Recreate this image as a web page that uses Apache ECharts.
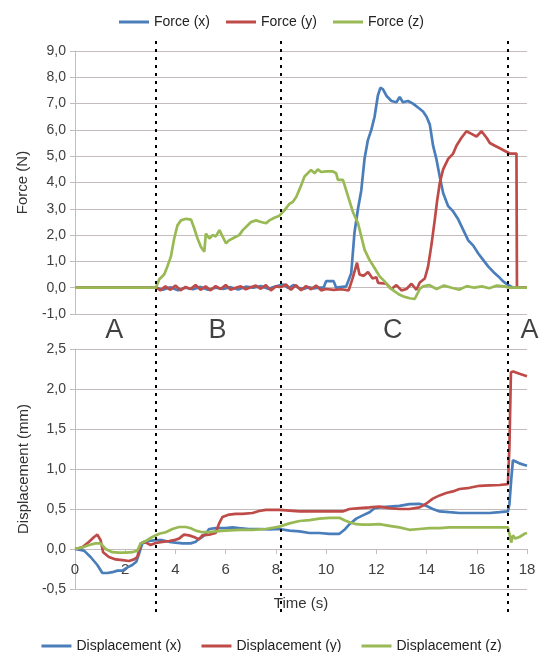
<!DOCTYPE html>
<html>
<head>
<meta charset="utf-8" />
<script src="https://cdn.jsdelivr.net/npm/echarts@6/dist/echarts.min.js"></script>
<style>
  html, body { margin: 0; padding: 0; background: #fff; }
  #chart { width: 543px; height: 652px; }
</style>
</head>
<body>
<div id="chart"></div>
<script>
// force (N) vs time (s)
const forceXTime = [0, 3.25, 3.5, 3.8, 4.1, 4.4, 4.7, 5.0, 5.3, 5.6, 5.9, 6.2, 6.5, 6.8, 7.1, 7.4, 7.7, 8.0, 8.3, 8.5, 8.7, 8.9, 9.1, 9.3, 9.5, 9.7, 9.9, 10.0, 10.3, 10.4, 10.8, 11.0, 11.13, 11.27, 11.4, 11.53, 11.66, 11.8, 11.93, 12.06, 12.16, 12.26, 12.4, 12.6, 12.8, 12.93, 13.06, 13.26, 13.46, 13.66, 13.86, 14.0, 14.13, 14.26, 14.39, 14.53, 14.66, 14.86, 15.06, 15.26, 15.46, 15.66, 15.86, 16.06, 16.26, 16.46, 16.66, 16.86, 17.05, 17.25, 17.45, 18];
const forceX = [0, 0, -0.08, 0.02, -0.1, 0.0, -0.06, 0.03, -0.08, 0.0, -0.05, 0.02, -0.07, 0.04, 0.0, 0.06, -0.04, 0.05, 0.12, -0.02, 0.1, 0.0, -0.05, 0.02, -0.03, 0.0, 0.0, 0.25, 0.25, 0.0, 0.05, 0.55, 2.1, 3.0, 3.7, 4.9, 5.6, 6.0, 6.5, 7.3, 7.6, 7.55, 7.3, 7.1, 7.05, 7.25, 7.05, 7.1, 7.0, 6.85, 6.7, 6.5, 6.2, 5.4, 4.9, 4.2, 3.6, 3.1, 2.9, 2.6, 2.2, 1.8, 1.6, 1.3, 1.05, 0.8, 0.6, 0.43, 0.24, 0.1, 0, 0];

const forceYTime = [0, 3.25, 3.4, 3.6, 3.8, 4.0, 4.2, 4.4, 4.6, 4.8, 5.0, 5.2, 5.4, 5.6, 5.8, 6.0, 6.2, 6.4, 6.6, 6.8, 7.0, 7.2, 7.4, 7.6, 7.8, 8.0, 8.2, 8.4, 8.6, 8.8, 9.0, 9.2, 9.4, 9.6, 9.8, 10.0, 10.3, 10.6, 10.9, 11.07, 11.23, 11.33, 11.5, 11.67, 11.85, 12.0, 12.07, 12.4, 12.6, 12.8, 13.0, 13.2, 13.4, 13.6, 13.73, 13.93, 14.06, 14.19, 14.33, 14.42, 14.53, 14.66, 14.86, 15.06, 15.19, 15.39, 15.59, 15.79, 15.99, 16.19, 16.39, 16.52, 16.72, 16.92, 17.12, 17.32, 17.58, 17.6, 18];
const forceY = [0, 0, -0.1, 0.05, -0.08, 0.08, -0.1, 0.03, -0.05, 0.1, -0.08, 0.05, -0.1, 0.06, -0.05, 0.1, -0.08, 0.0, 0.05, -0.06, 0.02, 0.08, -0.04, 0.1, -0.1, 0.05, 0.02, 0.12, -0.08, 0.1, -0.1, 0.06, -0.06, 0.08, -0.1, -0.05, -0.08, -0.06, -0.1, 0.4, 0.95, 0.5, 0.45, 0.6, 0.35, 0.4, 0.18, 0.15, -0.05, 0.1, -0.1, -0.05, 0.15, -0.08, 0.2, 0.35, 0.8, 1.6, 2.6, 3.3, 4.0, 4.5, 4.9, 5.1, 5.4, 5.7, 5.95, 5.85, 5.75, 5.95, 5.7, 5.5, 5.4, 5.3, 5.2, 5.1, 5.1, 0, 0];

const forceZTime = [0, 3.22, 3.35, 3.55, 3.68, 3.82, 3.95, 4.08, 4.22, 4.42, 4.62, 4.75, 4.88, 5.01, 5.15, 5.21, 5.35, 5.48, 5.61, 5.75, 5.88, 6.01, 6.15, 6.35, 6.54, 6.68, 6.81, 7.01, 7.21, 7.41, 7.61, 7.74, 7.94, 8.14, 8.34, 8.54, 8.67, 8.81, 9.01, 9.14, 9.27, 9.40, 9.54, 9.67, 9.80, 10.0, 10.27, 10.40, 10.47, 10.67, 10.80, 10.93, 11.07, 11.27, 11.40, 11.53, 11.73, 11.93, 12.13, 12.33, 12.53, 12.73, 12.93, 13.13, 13.33, 13.53, 13.73, 13.86, 14.1, 14.4, 14.7, 15.0, 15.3, 15.6, 15.9, 16.2, 16.5, 16.8, 17.1, 17.3, 18];
const forceZ = [0, 0, 0.31, 0.5, 0.81, 1.19, 1.87, 2.37, 2.56, 2.62, 2.59, 2.25, 1.87, 1.56, 1.37, 2.06, 1.87, 2.0, 1.95, 2.19, 1.94, 1.69, 1.81, 1.91, 2.0, 2.19, 2.31, 2.5, 2.56, 2.5, 2.45, 2.56, 2.66, 2.74, 2.94, 3.19, 3.26, 3.45, 3.9, 4.23, 4.35, 4.48, 4.35, 4.5, 4.4, 4.42, 4.42, 4.35, 4.1, 4.1, 3.7, 3.3, 2.87, 2.45, 1.95, 1.45, 1.05, 0.75, 0.43, 0.24, 0.0, -0.14, -0.27, -0.35, -0.4, -0.43, -0.05, 0.05, 0.1, -0.05, 0.08, 0.0, -0.08, 0.06, 0.0, 0.05, -0.02, 0.08, 0.05, 0, 0];

// displacement (mm) vs time (s)
const dispXTime = [0, 0.36, 0.62, 0.89, 1.09, 1.29, 1.49, 1.69, 1.89, 2.09, 2.28, 2.44, 2.55, 2.68, 2.95, 3.21, 3.48, 3.75, 4.01, 4.28, 4.61, 4.81, 4.94, 5.07, 5.21, 5.34, 5.60, 6.00, 6.27, 6.53, 6.93, 7.33, 7.73, 8.14, 8.54, 8.94, 9.34, 9.73, 10.13, 10.53, 10.73, 10.93, 11.20, 11.46, 11.73, 11.93, 12.12, 12.52, 12.92, 13.32, 13.72, 13.98, 14.25, 14.52, 14.91, 15.31, 15.71, 16.11, 16.51, 16.91, 17.24, 17.30, 17.37, 17.44, 17.57, 17.70, 17.90, 18.0];
const dispX = [0, -0.02, -0.1, -0.2, -0.3, -0.3, -0.29, -0.27, -0.27, -0.23, -0.2, -0.16, -0.06, 0.07, 0.1, 0.11, 0.11, 0.09, 0.08, 0.07, 0.07, 0.09, 0.13, 0.15, 0.19, 0.25, 0.26, 0.26, 0.27, 0.26, 0.25, 0.25, 0.245, 0.25, 0.23, 0.22, 0.2, 0.2, 0.19, 0.19, 0.24, 0.31, 0.38, 0.42, 0.46, 0.51, 0.52, 0.53, 0.54, 0.56, 0.565, 0.54, 0.5, 0.47, 0.46, 0.45, 0.45, 0.45, 0.45, 0.46, 0.47, 0.56, 0.86, 1.11, 1.09, 1.07, 1.05, 1.04];

const dispYTime = [0, 0.29, 0.56, 0.76, 0.89, 1.02, 1.12, 1.35, 1.62, 1.89, 2.15, 2.35, 2.48, 2.62, 2.75, 2.88, 3.01, 3.21, 3.48, 3.75, 3.94, 4.14, 4.34, 4.54, 4.74, 4.94, 5.07, 5.34, 5.60, 5.74, 5.87, 6.14, 6.40, 6.67, 7.07, 7.33, 7.60, 8.13, 8.54, 8.94, 9.34, 9.73, 10.13, 10.66, 10.93, 11.33, 11.73, 12.12, 12.52, 12.92, 13.32, 13.72, 13.98, 14.25, 14.52, 14.78, 15.05, 15.31, 15.71, 16.11, 16.51, 16.91, 17.24, 17.30, 17.36, 17.45, 17.7, 18.0];
const dispY = [0, 0.02, 0.09, 0.15, 0.18, 0.11, -0.04, -0.1, -0.13, -0.14, -0.15, -0.13, -0.1, 0.07, 0.09, 0.07, 0.05, 0.075, 0.09, 0.1, 0.11, 0.13, 0.18, 0.17, 0.15, 0.12, 0.17, 0.18, 0.2, 0.32, 0.4, 0.43, 0.44, 0.44, 0.45, 0.475, 0.49, 0.49, 0.48, 0.47, 0.47, 0.47, 0.47, 0.47, 0.5, 0.51, 0.52, 0.53, 0.51, 0.5, 0.5, 0.52, 0.565, 0.63, 0.67, 0.7, 0.72, 0.75, 0.765, 0.79, 0.795, 0.8, 0.81, 1.28, 2.21, 2.22, 2.19, 2.16];

const dispZTime = [0, 0.29, 0.56, 0.82, 1.02, 1.22, 1.49, 1.75, 2.02, 2.28, 2.48, 2.62, 2.82, 3.08, 3.35, 3.61, 3.88, 4.14, 4.41, 4.61, 4.81, 5.07, 5.34, 5.60, 6.00, 6.53, 7.07, 7.60, 8.14, 8.54, 8.94, 9.34, 9.73, 10.13, 10.53, 10.73, 10.93, 11.20, 11.46, 11.73, 12.12, 12.52, 12.92, 13.32, 13.72, 14.12, 14.52, 14.91, 15.31, 15.71, 16.11, 16.51, 16.91, 17.24, 17.30, 17.37, 17.44, 17.54, 17.70, 17.90, 18.0];
const dispZ = [0, 0.02, 0.05, 0.07, 0.07, 0.0, -0.04, -0.045, -0.045, -0.04, -0.02, 0.07, 0.1, 0.15, 0.19, 0.21, 0.25, 0.275, 0.275, 0.26, 0.23, 0.21, 0.21, 0.22, 0.23, 0.24, 0.24, 0.25, 0.28, 0.32, 0.35, 0.36, 0.38, 0.39, 0.39, 0.36, 0.335, 0.31, 0.305, 0.305, 0.31, 0.29, 0.27, 0.24, 0.25, 0.26, 0.26, 0.27, 0.27, 0.27, 0.27, 0.27, 0.27, 0.27, 0.19, 0.08, 0.17, 0.13, 0.15, 0.19, 0.2];

// phase boundaries and labels
const phaseBounds = [3.23, 8.18, 17.23];
const phaseNames = ['A', 'B', 'C', 'A'];
const phaseCenters = [1.56, 5.67, 12.65, 18.1];

const blue = '#4a7ebb';
const red = '#be4b48';
const green = '#98b954';
const gridColor = '#c4bcbc';
const font = '"Liberation Sans", Arial, sans-serif';

const dispMin = -0.5, dispMax = 2.5;
const dispGridHeight = 240;

const zip = (t, v) => t.map((x, i) => [x, v[i]]);
const comma = v => v.toFixed(1).replace('.', ',');

const chart = echarts.init(document.getElementById('chart'));

const lineSeries = (name, color, t, v, idx) => ({
  name,
  type: 'line',
  xAxisIndex: idx,
  yAxisIndex: idx,
  data: zip(t, v),
  showSymbol: false,
  symbol: 'none',
  lineStyle: { color, width: 2.7 },
  itemStyle: { color },
  animation: false
});

// time axis of the lower chart sits on the zero line
const zeroOffset = -dispGridHeight * (0 - dispMin) / (dispMax - dispMin);

const option = {
  animation: false,
  textStyle: { fontFamily: font },
  legend: [
    {
      data: ['Force (x)', 'Force (y)', 'Force (z)'],
      top: 10, left: 'center',
      icon: 'rect', itemWidth: 30, itemHeight: 3, itemGap: 16,
      textStyle: { fontSize: 14, color: '#222', fontFamily: font }
    },
    {
      data: ['Displacement (x)', 'Displacement (y)', 'Displacement (z)'],
      top: 634, left: 'center',
      icon: 'rect', itemWidth: 30, itemHeight: 3, itemGap: 20,
      textStyle: { fontSize: 14, color: '#222', fontFamily: font }
    }
  ],
  grid: [
    { left: 75, right: 16, top: 51, height: 263 },
    { left: 75, right: 16, top: 349, height: dispGridHeight },
    { left: 75, right: 16, top: 38, height: 574 }
  ],
  xAxis: [
    {
      gridIndex: 0, type: 'value', min: 0, max: 18, interval: 2,
      axisLine: { show: false }, axisTick: { show: false },
      axisLabel: { show: false }, splitLine: { show: false }
    },
    {
      gridIndex: 1, type: 'value', min: 0, max: 18, interval: 2,
      offset: zeroOffset,
      name: 'Time (s)', nameLocation: 'middle', nameGap: 47,
      nameTextStyle: { fontSize: 15, color: '#333', fontFamily: font },
      axisLine: { onZero: false, lineStyle: { color: gridColor, width: 1 } },
      axisTick: { show: true, length: 5, lineStyle: { color: gridColor } },
      axisLabel: { fontSize: 15, color: '#404040', margin: 13, fontFamily: font },
      splitLine: { show: false }
    },
    { gridIndex: 2, type: 'value', min: 0, max: 18, show: false }
  ],
  yAxis: [
    {
      gridIndex: 0, type: 'value', min: -1, max: 9, interval: 1,
      name: 'Force (N)', nameLocation: 'middle', nameGap: 45, nameRotate: 90,
      nameTextStyle: { fontSize: 15, color: '#333', fontFamily: font },
      axisLine: { show: true, lineStyle: { color: gridColor } },
      axisTick: { show: true, length: 5, lineStyle: { color: gridColor } },
      axisLabel: { fontSize: 14, color: '#404040', margin: 9, formatter: comma, fontFamily: font },
      splitLine: { lineStyle: { color: gridColor, width: 1 } }
    },
    {
      gridIndex: 1, type: 'value', min: dispMin, max: dispMax, interval: 0.5,
      name: 'Displacement (mm)', nameLocation: 'middle', nameGap: 35, nameRotate: 90,
      nameTextStyle: { fontSize: 15, color: '#333', fontFamily: font },
      axisLine: { show: true, lineStyle: { color: gridColor } },
      axisTick: { show: true, length: 5, lineStyle: { color: gridColor } },
      axisLabel: { fontSize: 14, color: '#404040', margin: 9, formatter: comma, fontFamily: font },
      splitLine: { lineStyle: { color: gridColor, width: 1 } }
    },
    { gridIndex: 2, type: 'value', min: 0, max: 1, show: false }
  ],
  series: [
    lineSeries('Force (x)', blue, forceXTime, forceX, 0),
    lineSeries('Force (y)', red, forceYTime, forceY, 0),
    lineSeries('Force (z)', green, forceZTime, forceZ, 0),
    lineSeries('Displacement (x)', blue, dispXTime, dispX, 1),
    lineSeries('Displacement (y)', red, dispYTime, dispY, 1),
    lineSeries('Displacement (z)', green, dispZTime, dispZ, 1),
    {
      type: 'scatter',
      xAxisIndex: 2,
      yAxisIndex: 2,
      clip: false,
      silent: true,
      symbolSize: 1,
      itemStyle: { color: 'rgba(0,0,0,0)' },
      data: phaseNames.map((n, i) => ({ name: n, value: [phaseCenters[i], 0.49] })),
      label: {
        show: true, position: 'inside', formatter: '{b}',
        fontSize: 27, color: '#111', fontFamily: font
      },
      markLine: {
        silent: true,
        symbol: 'none',
        label: { show: false },
        lineStyle: { color: '#000', width: 2, type: [3, 5] },
        data: phaseBounds.map(x => ({ xAxis: x }))
      }
    }
  ]
};

chart.setOption(option);
</script>
</body>
</html>
